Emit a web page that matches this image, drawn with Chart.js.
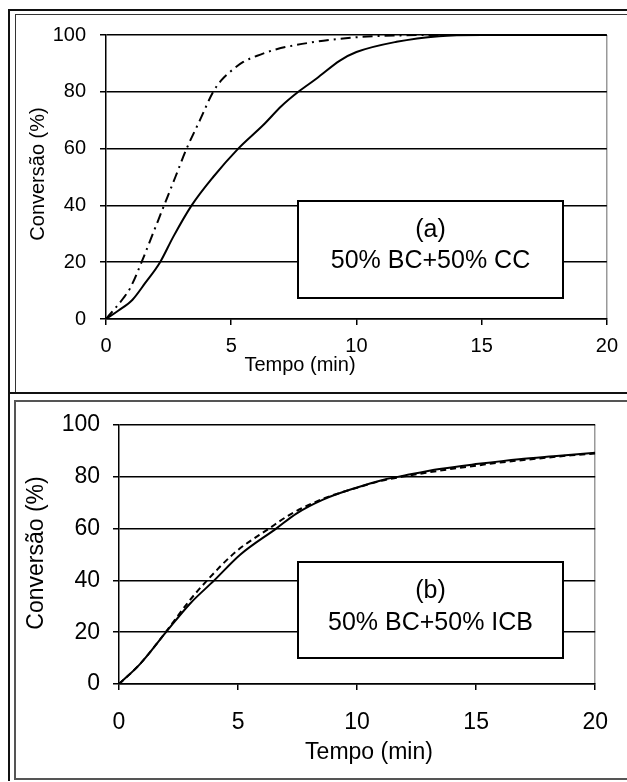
<!DOCTYPE html>
<html>
<head>
<meta charset="utf-8">
<script src="https://cdn.jsdelivr.net/npm/chart.js@4.4.1/dist/chart.umd.min.js"></script>
<style>
  html, body { margin: 0; padding: 0; background: #fff; }
  body { width: 627px; height: 782px; position: relative; overflow: hidden; }
  .frame { position: absolute; box-sizing: border-box; }
  .panel { position: absolute; left: 0; width: 627px; }
</style>
</head>
<body>
<div class="frame" style="left:8px;top:9px;width:2px;height:772px;background:#111;"></div>
<div class="frame" style="left:8px;top:9px;width:700px;height:385px;border:2px solid #111;"></div>
<div class="frame" style="left:15px;top:14px;width:700px;height:378px;border-left:1px solid #333;border-top:1px solid #333;"></div>
<div class="frame" style="left:14px;top:400px;width:700px;height:380px;border:2px solid #555;"></div>

<div class="panel" style="top:0;height:393px;"><canvas id="chartA"></canvas></div>
<div class="panel" style="top:395px;height:387px;"><canvas id="chartB"></canvas></div>

<script>
// (a) 50% BC + 50% CC
const timeA1 = [0, 0.5, 1.05, 1.56, 2.16, 2.69, 3.42, 4.28, 5.28, 6.28, 7.01, 7.68, 8.41, 9.34, 10.0, 11.6, 13.3, 15, 20];
const convA1 = [0, 3, 6.7, 12.6, 20, 29, 40, 50, 60, 68.3, 75, 80, 84.7, 91, 94, 97.6, 99.6, 100, 100];
const timeA2 = [0, 0.69, 0.96, 1.42, 1.87, 2.32, 2.77, 3.22, 3.75, 4.28, 4.6, 4.95, 5.48, 6.01, 6.81, 7.61, 8.68, 10, 11.5, 13, 20];
const convA2 = [0, 7.3, 10.8, 20, 30, 40, 50, 60, 70, 80, 84, 87, 90.5, 92.6, 95, 96.5, 98, 99.2, 99.8, 100, 100];

// (b) 50% BC + 50% ICB
const timeB1 = [0, 0.88, 2.0, 2.98, 4.0, 5.1, 6.6, 7.45, 8.57, 9.97, 11.08, 12, 13.46, 15.1, 16.8, 18.5, 20];
const convB1 = [0, 7.7, 20.3, 31, 40, 50, 60, 65.8, 71.2, 75.8, 78.8, 80.5, 83, 85, 86.8, 88.1, 89.3];
const timeB2 = [0, 0.88, 2.0, 2.9, 3.7, 4.9, 6.3, 7.2, 8.57, 10, 11, 12, 13, 14, 15, 16, 17, 18, 19, 20];
const convB2 = [0, 7.7, 20.5, 31.5, 40, 51, 60, 65.5, 71.5, 75.8, 78.4, 80.2, 81.7, 83.1, 84.3, 85.5, 86.5, 87.4, 88.3, 89];

const xTicks = [0, 5, 10, 15, 20];
const yTicks = [0, 20, 40, 60, 80, 100];

const FONT = '"Liberation Sans", Arial, sans-serif';

function pts(xs, ys) {
  return xs.map((x, i) => ({ x: x, y: ys[i] }));
}

function serie(xs, ys, dash) {
  return {
    data: pts(xs, ys),
    borderColor: '#000',
    borderWidth: 2,
    borderDash: dash,
    pointRadius: 0,
    fill: false,
    tension: 0.4,
    cubicInterpolationMode: 'monotone'
  };
}

// Achsentitel und Textkasten direkt auf die Leinwand zeichnen
const panelText = {
  id: 'panelText',
  afterDraw(chart, args, o) {
    const ctx = chart.ctx;
    ctx.save();
    ctx.fillStyle = '#000';
    ctx.textAlign = 'center';
    ctx.textBaseline = 'alphabetic';
    ctx.font = o.titleSize + 'px ' + FONT;
    ctx.fillText(o.xTitle, o.xTitlePos[0], o.xTitlePos[1]);
    ctx.save();
    ctx.translate(o.yTitlePos[0], o.yTitlePos[1]);
    ctx.rotate(-Math.PI / 2);
    ctx.fillText(o.yTitle, 0, 0);
    ctx.restore();

    const b = o.box;
    ctx.fillStyle = '#fff';
    ctx.fillRect(b[0], b[1], b[2] - b[0], b[3] - b[1]);
    ctx.strokeStyle = '#000';
    ctx.lineWidth = 2;
    ctx.strokeRect(b[0], b[1], b[2] - b[0], b[3] - b[1]);
    ctx.fillStyle = '#000';
    ctx.font = o.boxSize + 'px ' + FONT;
    const cx = (b[0] + b[2]) / 2;
    o.boxLines.forEach((t, i) => ctx.fillText(t, cx, o.boxBase[i]));
    ctx.restore();
  }
};

function makeChart(id, sets, cfg) {
  return new Chart(document.getElementById(id), {
    type: 'line',
    data: { datasets: sets },
    plugins: [panelText],
    options: {
      responsive: true,
      maintainAspectRatio: false,
      animation: false,
      layout: { padding: cfg.padding },
      plugins: {
        legend: { display: false },
        tooltip: { enabled: false },
        panelText: cfg.text
      },
      scales: {
        x: {
          type: 'linear',
          min: 0, max: 20,
          afterFit: (s) => { s.height = cfg.xHeight; },
          afterBuildTicks: (s) => { s.ticks = xTicks.map(v => ({ value: v })); },
          border: { display: true, color: '#000', width: 1.5 },
          grid: {
            color: (c) => (c.tick && c.tick.value === 20) ? '#999' : 'rgba(0,0,0,0)',
            tickColor: '#000',
            tickLength: 6,
            lineWidth: 1.5
          },
          ticks: { color: '#000', font: { family: FONT, size: cfg.tickSize }, padding: cfg.xPad, maxRotation: 0 }
        },
        y: {
          min: 0, max: 100,
          afterFit: (s) => { s.width = cfg.yWidth; },
          afterBuildTicks: (s) => { s.ticks = yTicks.map(v => ({ value: v })); },
          border: { display: true, color: '#000', width: 1.5 },
          grid: { color: '#000', tickColor: '#000', tickLength: 6, lineWidth: 1.5 },
          ticks: { color: '#000', font: { family: FONT, size: cfg.tickSize }, padding: cfg.yPad }
        }
      }
    }
  });
}

makeChart('chartA', [
  serie(timeA2, convA2, [10, 5, 2, 5]),
  serie(timeA1, convA1, [])
], {
  padding: { left: 0, top: 35, right: 20, bottom: 0 },
  xHeight: 74, yWidth: 106, tickSize: 20, xPad: 9, yPad: 14,
  text: {
    titleSize: 20,
    xTitle: 'Tempo (min)', xTitlePos: [300, 371],
    yTitle: 'Conversão (%)', yTitlePos: [44, 174],
    box: [298, 201, 563, 298],
    boxSize: 25,
    boxLines: ['(a)', '50% BC+50% CC'],
    boxBase: [237, 268]
  }
});

makeChart('chartB', [
  serie(timeB2, convB2, [6, 4]),
  serie(timeB1, convB1, [])
], {
  padding: { left: 0, top: 30, right: 31, bottom: 0 },
  xHeight: 98, yWidth: 119, tickSize: 23, xPad: 19, yPad: 13,
  text: {
    titleSize: 23,
    xTitle: 'Tempo (min)', xTitlePos: [369, 364],
    yTitle: 'Conversão (%)', yTitlePos: [43, 158],
    box: [298, 167, 563, 263],
    boxSize: 25,
    boxLines: ['(b)', '50% BC+50% ICB'],
    boxBase: [203, 235]
  }
});
</script>
</body>
</html>
